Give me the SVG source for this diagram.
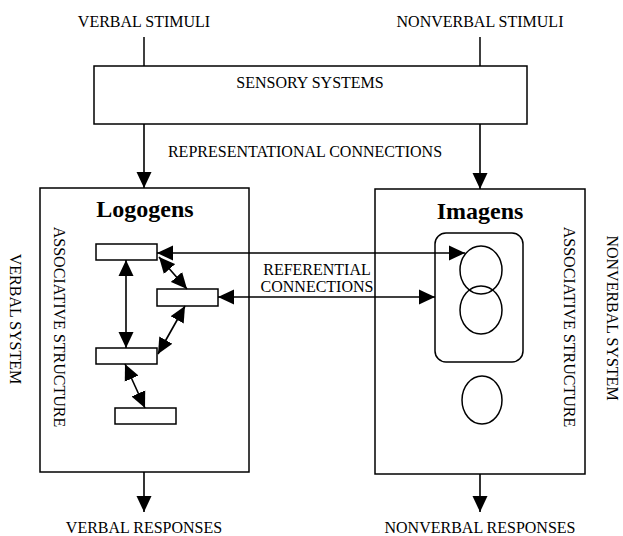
<svg xmlns="http://www.w3.org/2000/svg" width="623" height="536" viewBox="0 0 623 536">
<style>
text{font-family:"Liberation Serif","Times New Roman",serif;font-size:16px;fill:#000}
.t{text-anchor:middle}
.h{font-size:24px;font-weight:bold}
.box{fill:#fff;stroke:#000;stroke-width:1.5}
.ln{fill:none;stroke:#000;stroke-width:1.5}
.ar{fill:none;stroke:#000;stroke-width:1.6;marker-end:url(#ah)}
.dar{fill:none;stroke:#000;stroke-width:1.6;marker-start:url(#ah);marker-end:url(#ah)}
</style>
<defs>
<marker id="ah" viewBox="0 0 16 16" refX="16" refY="8" markerWidth="16" markerHeight="16" markerUnits="userSpaceOnUse" orient="auto-start-reverse">
<path d="M0,0.5 L16,8 L0,15.5 z" fill="#000"/>
</marker>
</defs>
<rect width="623" height="536" fill="#fff"/>

<g id="labels">
<text class="t" x="144" y="27">VERBAL STIMULI</text>
<text class="t" x="480" y="27">NONVERBAL STIMULI</text>
<text class="t" x="305" y="157">REPRESENTATIONAL CONNECTIONS</text>
<text class="t" x="317" y="275">REFERENTIAL</text>
<text class="t" x="317" y="292">CONNECTIONS</text>
<text class="t" x="144" y="533">VERBAL RESPONSES</text>
<text class="t" x="480" y="533">NONVERBAL RESPONSES</text>
<text class="t" transform="translate(10,319) rotate(90)">VERBAL SYSTEM</text>
<text class="t" transform="translate(607,318) rotate(90)">NONVERBAL SYSTEM</text>
</g>

<g id="sensory">
<rect class="box" x="94" y="66" width="433" height="58"/>
<text class="t" x="310" y="88">SENSORY SYSTEMS</text>
</g>

<g id="verbal-system">
<rect class="box" x="40" y="188" width="209" height="284"/>
<text class="t h" x="145" y="217">Logogens</text>
<text class="t" transform="translate(54,327) rotate(90)">ASSOCIATIVE STRUCTURE</text>
</g>
<g id="logogen1"><rect class="box" x="96" y="244" width="61" height="16"/></g>
<g id="logogen2"><rect class="box" x="157" y="289" width="61" height="17"/></g>
<g id="logogen3"><rect class="box" x="96" y="348" width="61" height="16"/></g>
<g id="logogen4"><rect class="box" x="115" y="408" width="61" height="16"/></g>

<g id="nonverbal-system">
<rect class="box" x="375" y="189" width="210" height="285"/>
<text class="t h" x="480" y="219">Imagens</text>
<text class="t" transform="translate(564,327) rotate(90)">ASSOCIATIVE STRUCTURE</text>
</g>
<g id="imagen-group"><rect class="box" x="435" y="233" width="88" height="129" rx="11"/></g>
<g id="imagen1"><ellipse class="ln" cx="481" cy="270" rx="21" ry="24"/></g>
<g id="imagen2"><ellipse class="ln" cx="481" cy="310" rx="21" ry="24"/></g>
<g id="imagen3"><ellipse class="ln" cx="482" cy="400" rx="20" ry="24"/></g>

<g id="connectors">
<line class="ln" x1="144" y1="37" x2="144" y2="66"/>
<line class="ln" x1="480" y1="37" x2="480" y2="66"/>
<line class="ar" x1="144" y1="124" x2="144" y2="188"/>
<line class="ar" x1="480" y1="124" x2="480" y2="189"/>
<line class="ar" x1="144" y1="472" x2="144" y2="512"/>
<line class="ar" x1="480" y1="474" x2="480" y2="512"/>
<line class="dar" x1="126" y1="260" x2="126" y2="348"/>
<line class="dar" x1="159" y1="257" x2="187" y2="289"/>
<line class="dar" x1="185" y1="306" x2="158" y2="354"/>
<line class="dar" x1="125" y1="364" x2="145" y2="408"/>
<line class="dar" x1="157" y1="253" x2="465" y2="253"/>
<line class="dar" x1="218" y1="297" x2="435" y2="297"/>
</g>
</svg>
